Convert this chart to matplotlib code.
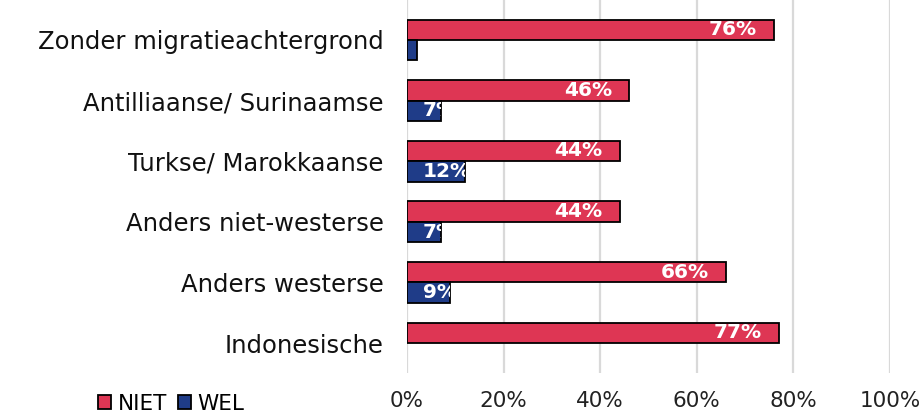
import numpy as np
import matplotlib
matplotlib.use("Agg")
import matplotlib.pyplot as plt
from matplotlib.patches import Patch

plt.rcParams['font.family'] = ['DejaVu Sans']

categories = [
    "Zonder migratieachtergrond",
    "Antilliaanse/ Surinaamse",
    "Turkse/ Marokkaanse",
    "Anders niet-westerse",
    "Anders westerse",
    "Indonesische",
]
niet = [76, 46, 44, 44, 66, 77]
wel = [2, 7, 12, 7, 9, np.nan]
xticks = [0, 20, 40, 60, 80, 100]
xtick_labels = ["0%", "20%", "40%", "60%", "80%", "100%"]

RED = "#DE3654"
BLUE = "#1F3C88"
GRID = "#D9D9D9"

fig = plt.figure(figsize=(9.24, 4.16), dpi=100)
ax = fig.add_axes([407 / 924, (416 - 373) / 416, 483 / 924, 373 / 416])

y = np.arange(len(categories))
h = 0.338

bars_niet = ax.barh(y - h / 2, niet, height=h, color=RED, edgecolor="black",
                    linewidth=1.3, zorder=3)
bars_wel = ax.barh(y + h / 2, wel, height=h, color=BLUE, edgecolor="black",
                   linewidth=1.3, zorder=3)


def label_bars(bars, values, show_small):
    for bar, v in zip(bars, values):
        if np.isnan(v) or (v < 5 and not show_small):
            continue
        yc = bar.get_y() + bar.get_height() / 2
        if v >= 15:
            t = ax.annotate(f"{v:.0f}%", xy=(v, yc), xytext=(-17, 0),
                            textcoords="offset pixels", ha="right", va="center",
                            color="white", fontsize=14.5, fontweight="bold", zorder=4)
        else:
            t = ax.annotate(f"{v:.0f}%", xy=(0, yc), xytext=(16, 0),
                            textcoords="offset pixels", ha="left", va="center",
                            color="white", fontsize=14.5, fontweight="bold", zorder=4)
        t.set_clip_on(True)
        t.set_clip_path(bar)


label_bars(bars_niet, niet, True)
label_bars(bars_wel, wel, False)

ax.set_xlim(0, 100)
ax.set_ylim(5.495, -0.66)
ax.set_xticks(xticks)
ax.set_xticklabels(xtick_labels, fontsize=15.5, color="#222222")
ax.set_yticks(y)
ax.set_yticklabels(categories, fontsize=17.5, color="#111111")
ax.tick_params(axis="both", length=0)
ax.tick_params(axis="x", pad=13)
ax.tick_params(axis="y", pad=17)
ax.xaxis.grid(True, color=GRID, linewidth=1.6, zorder=0)
ax.set_axisbelow(True)
for s in ax.spines.values():
    s.set_visible(False)

handles = [Patch(facecolor=RED, edgecolor="black", linewidth=1.3, label="NIET"),
           Patch(facecolor=BLUE, edgecolor="black", linewidth=1.3, label="WEL")]
fig.legend(handles=handles, loc="center left", bbox_to_anchor=(87 / 924, 1 - 404 / 416),
           ncol=2, frameon=False, fontsize=15.5, handlelength=0.62, handleheight=0.62,
           handletextpad=0.3, columnspacing=0.5, borderpad=0)

fig.savefig("out.png", dpi=100)
